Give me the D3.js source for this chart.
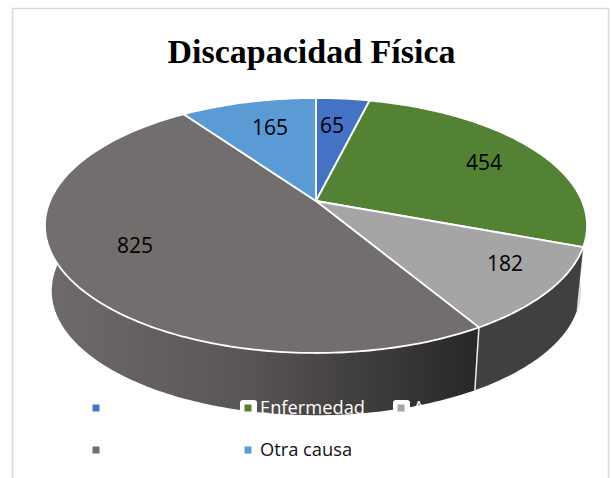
<!DOCTYPE html>
<html><head><meta charset="utf-8">
<style>html,body{margin:0;padding:0;background:#fff}svg{display:block}</style>
<script src="https://cdn.jsdelivr.net/npm/d3@7/dist/d3.min.js"></script>
</head><body><svg id="c" width="612" height="478"></svg>
<script>
const categories = ["", "Enfermedad", "Accidente", "", "Otra causa"];
const values = [65, 454, 182, 825, 165];
const colors = ["#4472c4", "#548235", "#a5a5a5", "#726e6d", "#5b9bd5"];
const title = "Discapacidad Física";

const svg = d3.select("#c");
// perspective projection of the unit disc
const cx = 316, topY = 201, botY = 267, k = 0.192, A = 122.8, B = 266, S = 0.975;
function proj(a, base) {
  const x = Math.sin(a), y = Math.cos(a), w = 1 + k * y, s = base ? S : 1;
  return [cx + s * B * x / w, (base ? botY : topY) - s * A * y / w];
}
const arcs = d3.pie().sort(null).value(d => d)(values);
const line = d3.line();
function rimPts(a0, a1, base) {
  const n = Math.max(2, Math.ceil((a1 - a0) * 60));
  return d3.range(n + 1).map(i => proj(a0 + (a1 - a0) * i / n, base));
}

const defs = svg.append("defs");
const grad = defs.append("linearGradient").attr("id", "sideG").attr("gradientUnits", "userSpaceOnUse")
  .attr("x1", 45).attr("x2", 478).attr("y1", 0).attr("y2", 0);
grad.append("stop").attr("offset", 0).attr("stop-color", "#6f6b6a");
grad.append("stop").attr("offset", 0.45).attr("stop-color", "#5a5655");
grad.append("stop").attr("offset", 1).attr("stop-color", "#282627");

svg.append("rect").attr("x", 12.5).attr("y", 8.5).attr("width", 596).attr("height", 480)
  .attr("fill", "#fff").attr("stroke", "#d9d9d9").attr("stroke-width", 1.5);

svg.append("text").attr("x", 311.5).attr("y", 63).attr("text-anchor", "middle")
  .attr("font-family", "'Liberation Serif', serif").attr("font-weight", 700)
  .attr("font-size", 34).attr("fill", "#000").text(title);

// sides (front-facing only)
const sideFill = ["#2f5597", "#f4f4f4", "#404040", "url(#sideG)", "#3a6d9e"];
const sideMin = 1.5, sideMax = 4.72;
const sides = svg.append("g");
arcs.forEach((d, i) => {
  const a0 = Math.max(d.startAngle, sideMin), a1 = Math.min(d.endAngle, sideMax);
  if (a1 <= a0) return;
  const pts = rimPts(a0, a1, false).concat(rimPts(a0, a1, true).reverse());
  sides.append("path").attr("d", line(pts) + "Z").attr("fill", sideFill[i])
    .attr("stroke", i === 1 ? "#aaa" : "none").attr("stroke-width", 0.6);
});
// divider on the side between the gray slices
const dA = arcs[3].startAngle;
sides.append("path").attr("d", line([proj(dA, false), proj(dA, true)]))
  .attr("stroke", "#eee").attr("stroke-width", 1.5).attr("fill", "none");

// top face
const apex = [cx, topY];
const faces = svg.append("g");
arcs.forEach((d, i) => {
  const pts = [apex].concat(rimPts(d.startAngle, d.endAngle, false));
  faces.append("path").attr("d", line(pts) + "Z").attr("fill", colors[i])
    .attr("stroke", "#fff").attr("stroke-width", 1.8).attr("stroke-linejoin", "round");
});

// data labels
const labelPos = [[332, 125], [484, 162], [505, 263], [135, 245], [270, 127]];
const labels = svg.append("g").attr("font-family", "'Open Sans', sans-serif").attr("font-size", 21).attr("fill", "#000");
values.forEach((v, i) => labels.append("text").attr("x", labelPos[i][0]).attr("y", labelPos[i][1])
  .attr("text-anchor", "middle").attr("dominant-baseline", "central").text(v));

// legend
const legendPos = [[96, 408], [248, 408], [401, 408], [96, 450], [248, 450]];
const lg = svg.append("g");
categories.forEach((c, i) => {
  const [x, y] = legendPos[i];
  if (c && i < 4) lg.append("text").attr("x", x + 12).attr("y", y + 6)
    .attr("font-family", "'Open Sans', sans-serif").attr("font-size", 18.3).attr("fill", "#fff").text(c);
  if (i === 1 || i === 2) lg.append("rect").attr("x", x - 8).attr("y", y - 8).attr("width", 17).attr("height", 17).attr("rx", 3).attr("fill", "#fff");
  lg.append("rect").attr("x", x - 3.5).attr("y", y - 3.5).attr("width", 7).attr("height", 7).attr("fill", colors[i]);
  if (i === 4) lg.append("text").attr("x", x + 12).attr("y", y + 6)
    .attr("font-family", "'Open Sans', sans-serif").attr("font-size", 18.3).attr("fill", "#111").text(c);
});
</script></body></html>
